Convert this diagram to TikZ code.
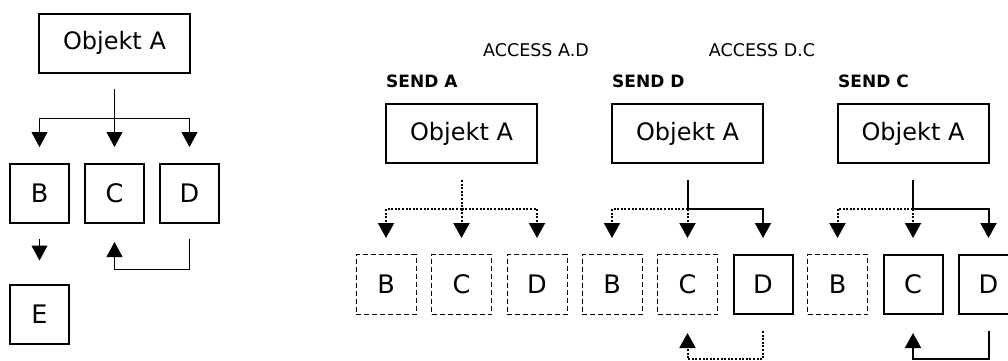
\documentclass[tikz,border=0pt]{standalone}
\usepackage{fontspec}
\setmainfont{DejaVu Sans}
\usetikzlibrary{arrows.meta}
\begin{document}
\begin{tikzpicture}[x=1pt,y=-1pt,
  txt/.style={font=\fontsize{24}{28}\selectfont},
  ltr/.style={font=\fontsize{25.5}{28}\selectfont},
  obj/.style={draw,line width=2pt,minimum width=151pt,minimum height=59pt,inner sep=0pt,txt},
  sbox/.style={draw,line width=2pt,minimum width=59pt,minimum height=59pt,inner sep=0pt,ltr},
  dbox/.style={draw,line width=1pt,dash pattern=on 5pt off 3pt,minimum width=60pt,minimum height=60pt,inner sep=0pt,ltr},
  tip/.style={-{Triangle[width=16pt,length=15pt]}},
  thinln/.style={line width=1pt},
  solln/.style={line width=2pt},
  dotln/.style={line width=2pt,dash pattern=on 2pt off 1.6pt},
  sendlbl/.style={anchor=west,inner sep=0pt,font=\fontsize{17}{20}\selectfont\bfseries},
  acclbl/.style={inner sep=0pt,font=\fontsize{17.5}{20}\selectfont}
]
\useasboundingbox (0,0) rectangle (1008,360);
\clip (0,0) rectangle (1008,360);

% ---------- left diagram ----------
\node[obj] (LA) at (114.5,43) {Objekt A};
\node[sbox] (LB) at (39.5,193.5) {B};
\node[sbox] (LC) at (114.5,193.5) {C};
\node[sbox] (LD) at (189.5,193.5) {D};
\node[sbox] (LE) at (39.5,314) {E};
\coordinate (Lj) at (LA.south |- 0,118);
\draw[thinln,tip] ([yshift=-15pt]LA.south) -- ([yshift=16pt]LC.north);
\draw[thinln,tip] (Lj) -| ([yshift=16pt]LB.north);
\draw[thinln,tip] (Lj) -| ([yshift=16pt]LD.north);
\draw[thinln,tip] ([yshift=-15pt]LB.south) -- ([yshift=23pt]LE.north);
\coordinate (Lloop) at ([yshift=-45pt]LD.south);
\draw[thinln,tip] ([yshift=-15pt]LD.south) -- (Lloop) -| ([yshift=-18pt]LC.south);

% ---------- group 1: SEND A ----------
\node[acclbl] (acc1) at (536,50) {ACCESS A.D};
\node[sendlbl] (s1) at (386,81) {SEND A};
\node[obj] (A1) at (461.5,133.5) {Objekt A};
\node[dbox] (B1) at (386,284.5) {B};
\node[dbox] (C1) at (461.5,284.5) {C};
\node[dbox] (D1) at (537,284.5) {D};
\coordinate (j1) at (A1.south |- 0,209);
\draw[dotln,tip] ([yshift=-16pt]A1.south) -- ([yshift=16pt]C1.north);
\draw[dotln,tip] (j1) -| ([yshift=16pt]B1.north);
\draw[dotln,tip] (j1) -| ([yshift=16pt]D1.north);

% ---------- group 2: SEND D ----------
\node[acclbl] (acc2) at (762,50) {ACCESS D.C};
\node[sendlbl] (s2) at (612,81) {SEND D};
\node[obj] (A2) at (687.5,133.5) {Objekt A};
\node[dbox] (B2) at (612,284.5) {B};
\node[dbox] (C2) at (687.5,284.5) {C};
\node[sbox] (D2) at (763,284.5) {D};
\coordinate (j2) at (A2.south |- 0,209);
\draw[solln] ([yshift=-16pt]A2.south) -- (j2);
\draw[solln,tip] (j2) -| ([yshift=16pt]D2.north);
\draw[dotln,tip] (j2) -| ([yshift=16pt]B2.north);
\draw[dotln,tip] (j2) -- ([yshift=16pt]C2.north);
\coordinate (loop2) at ([yshift=-44pt]D2.south);
\draw[dotln,tip] ([yshift=-16pt]D2.south) -- (loop2) -| ([yshift=-18pt]C2.south);

% ---------- group 3: SEND C ----------
\node[sendlbl] (s3) at (838,81) {SEND C};
\node[obj] (A3) at (913,133.5) {Objekt A};
\node[dbox] (B3) at (837.5,284.5) {B};
\node[sbox] (C3) at (913,284.5) {C};
\node[sbox] (D3) at (988.5,284.5) {D};
\coordinate (j3) at (A3.south |- 0,209);
\draw[solln] ([yshift=-16pt]A3.south) -- (j3);
\draw[solln,tip] (j3) -| ([yshift=16pt]D3.north);
\draw[dotln,tip] (j3) -| ([yshift=16pt]B3.north);
\draw[dotln,tip] (j3) -- ([yshift=16pt]C3.north);
\coordinate (loop3) at ([yshift=-44pt]D3.south);
\draw[solln,tip] ([yshift=-16pt]D3.south) -- (loop3) -| ([yshift=-18pt]C3.south);
\end{tikzpicture}
\end{document}
